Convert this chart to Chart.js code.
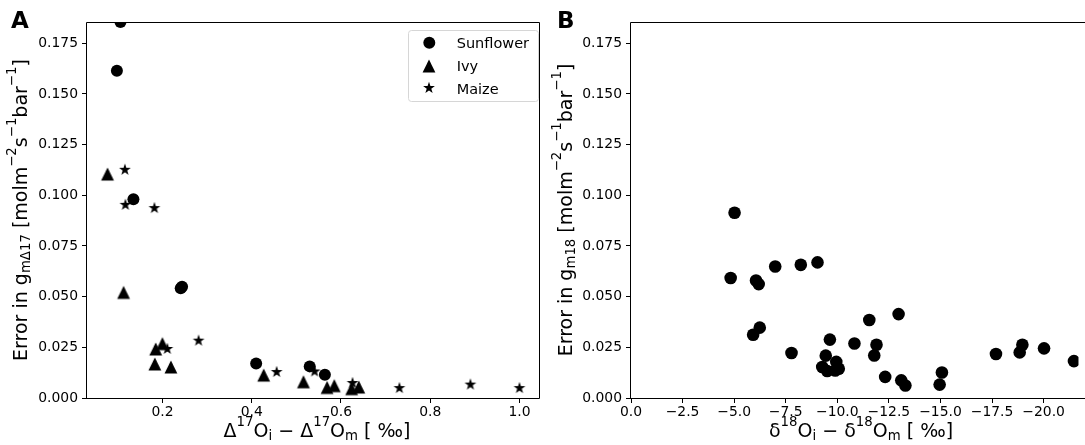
<!DOCTYPE html>
<html>
<head>
<meta charset="utf-8">
<script src="https://cdn.jsdelivr.net/npm/chart.js@4.4.0/dist/chart.umd.min.js"></script>
<style>
  html, body { margin: 0; padding: 0; background: #fff; overflow: hidden; }
  #wrap { position: relative; width: 1085px; height: 445px; font-family: "DejaVu Sans", sans-serif; color: #000; }
  canvas { position: absolute; top: 0; }
  #chartA { left: 0; }
  #chartB { left: 548px; }
  .lbl { position: absolute; white-space: nowrap; font-size: 19px; line-height: 19px; }
  .lbl sup, .lbl sub { font-size: 70%; line-height: 0; vertical-align: baseline; position: relative; }
  .lbl sup { top: -0.84em; }
  .lbl sub { top: 0.24em; }
  .xt { width: 400px; text-align: center; top: 421px; }
  .yt { top: 210px; transform: translate(-50%, -50%) rotate(-90deg); }
  .panel { position: absolute; font-weight: bold; font-size: 23px; line-height: 23px; }
</style>
</head>
<body>
<div id="wrap">
  <canvas id="chartA" width="548" height="445"></canvas>
  <canvas id="chartB" width="537" height="445"></canvas>

  <div class="panel" style="left:11px; top:9px;">A</div>
  <div class="panel" style="left:557px; top:9px;">B</div>

  <div class="lbl yt" style="left:20px;">Error in g<sub>mΔ17</sub> [molm<sup>−2</sup>s<sup>−1</sup>bar<sup>−1</sup>]</div>
  <div class="lbl xt" style="left:117px;">Δ<sup>17</sup>O<sub>i</sub> − Δ<sup>17</sup>O<sub>m</sub> [ ‰]</div>

  <div class="lbl yt" style="left:565px;">Error in g<sub>m18</sub> [molm<sup>−2</sup>s<sup>−1</sup>bar<sup>−1</sup>]</div>
  <div class="lbl xt" style="left:661px;">δ<sup>18</sup>O<sub>i</sub> − δ<sup>18</sup>O<sub>m</sub> [ ‰]</div>
</div>

<script>
// panel A: error in gm(Δ17) vs Δ17O difference, one series per species
const sunflowerX = [0.106, 0.098, 0.135, 0.241, 0.244, 0.410, 0.530, 0.564];
const sunflowerY = [0.1855, 0.1615, 0.0981, 0.0542, 0.0549, 0.0170, 0.0156, 0.0115];

const ivyX = [0.077, 0.113, 0.185, 0.200, 0.183, 0.219, 0.427, 0.516, 0.569, 0.585, 0.624, 0.640];
const ivyY = [0.1105, 0.0521, 0.0242, 0.0268, 0.0168, 0.0153, 0.0113, 0.0080, 0.0052, 0.0061, 0.0046, 0.0054];

const maizeX = [0.116, 0.117, 0.182, 0.211, 0.281, 0.456, 0.541, 0.626, 0.731, 0.890, 1.000];
const maizeY = [0.1126, 0.0953, 0.0937, 0.0242, 0.0283, 0.0128, 0.0131, 0.0074, 0.0049, 0.0066, 0.0049];

// panel B: error in gm18 vs δ18O difference
const d18X = [-5.02, -4.83, -6.06, -6.19, -6.99, -8.23, -9.04, -6.24, -5.92, -7.78,
              -9.64, -9.44, -9.27, -9.51, -9.95, -10.07, -9.90, -10.83, -11.55, -11.90,
              -11.79, -12.32, -12.97, -13.10, -13.30, -14.96, -15.07, -17.69, -18.84, -18.97,
              -20.02, -21.47];
const d18Y = [0.0914, 0.0592, 0.0580, 0.0562, 0.0649, 0.0657, 0.0669, 0.0347, 0.0312, 0.0222,
              0.0288, 0.0209, 0.0153, 0.0133, 0.0178, 0.0144, 0.0136, 0.0269, 0.0385, 0.0263,
              0.0210, 0.0104, 0.0414, 0.0087, 0.0062, 0.0066, 0.0126, 0.0217, 0.0225, 0.0263,
              0.0245, 0.0182];

const yTicks = [0, 0.025, 0.05, 0.075, 0.1, 0.125, 0.15, 0.175];
const xTicksA = [0.2, 0.4, 0.6, 0.8, 1.0];
const xTicksB = [0, -2.5, -5, -7.5, -10, -12.5, -15, -17.5, -20];

const FONT = '"DejaVu Sans", sans-serif';
const toPoints = (xs, ys) => xs.map((x, i) => ({ x: x, y: ys[i] }));

// filled marker shapes like matplotlib's '^' and '*'
function markerCanvas(draw) {
    const c = document.createElement('canvas');
    c.width = 16;
    c.height = 16;
    const g = c.getContext('2d');
    g.fillStyle = '#000';
    g.beginPath();
    draw(g);
    g.closePath();
    g.fill();
    return c;
}
const triangleImg = markerCanvas(g => {
    g.moveTo(8, 1.5);
    g.lineTo(1.6, 14.5);
    g.lineTo(14.4, 14.5);
});
const starImg = markerCanvas(g => {
    for (let i = 0; i < 10; i++) {
        const r = i % 2 ? 2.4 : 6.2;
        const a = -Math.PI / 2 + i * Math.PI / 5;
        g.lineTo(8 + r * Math.cos(a), 8 + r * Math.sin(a));
    }
});

// clip marks to the axes box, then draw the spines over them
const framePlugin = {
    id: 'frame',
    beforeDatasetsDraw(chart) {
        const { ctx, chartArea: a } = chart;
        ctx.save();
        ctx.beginPath();
        ctx.rect(a.left, a.top, a.right - a.left, a.bottom - a.top);
        ctx.clip();
    },
    afterDatasetsDraw(chart, args, opts) {
        const { ctx, chartArea: a } = chart;
        ctx.restore();
        const l = Math.round(a.left) - 0.5, t = Math.round(a.top) + 0.5;
        const b = Math.round(a.bottom) + 0.5, r = Math.round(a.right) - 0.5;
        ctx.save();
        ctx.strokeStyle = '#000';
        ctx.lineWidth = 1;
        ctx.beginPath();
        ctx.moveTo(l, b); ctx.lineTo(l, t); ctx.lineTo(opts.right ? r : chart.width, t);
        if (opts.right) ctx.lineTo(r, b);
        ctx.moveTo(l, b); ctx.lineTo(opts.right ? r : chart.width, b);
        ctx.stroke();
        ctx.restore();
    }
};

const boxLegend = {
    id: 'boxLegend',
    afterDraw(chart, args, opts) {
        if (!opts.show) return;
        const ctx = chart.ctx;
        ctx.save();
        ctx.beginPath();
        ctx.roundRect(408.5, 30.5, 130, 71, 3);
        ctx.fillStyle = 'rgba(255,255,255,0.8)';
        ctx.fill();
        ctx.strokeStyle = '#d6d6d6';
        ctx.lineWidth = 1;
        ctx.stroke();
        ctx.font = '14.5px ' + FONT;
        ctx.fillStyle = '#000';
        ctx.textBaseline = 'alphabetic';
        chart.data.datasets.forEach((ds, i) => {
            const y = 42.7 + i * 22.8;
            if (ds.pointStyle === 'circle') {
                ctx.beginPath();
                ctx.arc(429.3, y, 6, 0, Math.PI * 2);
                ctx.fill();
            } else {
                ctx.drawImage(ds.pointStyle, 429 - 8, Math.round(y) - 8);
            }
            ctx.fillText(ds.label, 456.7, y + 5.3);
        });
        ctx.restore();
    }
};

function tickAxis(ticks, fmt) {
    return {
        type: 'linear',
        afterBuildTicks: s => { s.ticks = ticks.map(v => ({ value: v })); },
        border: { display: false },
        grid: { drawOnChartArea: false, drawTicks: true, tickLength: 5, tickColor: '#000', tickWidth: 1 },
        ticks: {
            color: '#000',
            font: { family: FONT, size: 13.9 },
            autoSkip: false,
            maxRotation: 0,
            callback: fmt
        }
    };
}

function yAxis(width) {
    const ax = tickAxis(yTicks, v => v.toFixed(3));
    ax.min = 0;
    ax.max = 0.1855;
    ax.ticks.padding = 4;
    ax.afterFit = s => { s.width = width; s.paddingTop = 0; s.paddingBottom = 0; };
    return ax;
}

function xAxis(ticks, fmt, min, max, reverse) {
    const ax = tickAxis(ticks, fmt);
    ax.min = min;
    ax.max = max;
    ax.reverse = reverse;
    ax.ticks.padding = 1;
    ax.afterFit = s => { s.height = 47; s.paddingLeft = 0; s.paddingRight = 0; };
    return ax;
}

const commonOpts = {
    responsive: false,
    animation: false,
    devicePixelRatio: 1,
    events: []
};

new Chart(document.getElementById('chartA').getContext('2d'), {
    type: 'scatter',
    data: {
        datasets: [
            { label: 'Sunflower', data: toPoints(sunflowerX, sunflowerY), pointStyle: 'circle',
              pointRadius: 6, pointBorderWidth: 0, backgroundColor: '#000', borderColor: '#000' },
            { label: 'Ivy', data: toPoints(ivyX, ivyY), pointStyle: triangleImg,
              pointRadius: 7, backgroundColor: '#000', borderColor: '#000' },
            { label: 'Maize', data: toPoints(maizeX, maizeY), pointStyle: starImg,
              pointRadius: 6, backgroundColor: '#000', borderColor: '#000' }
        ]
    },
    options: Object.assign({}, commonOpts, {
        layout: { padding: { left: 0, top: 22, right: 2, bottom: 0 } },
        scales: {
            x: xAxis(xTicksA, v => v.toFixed(1), 0.031, 1.046, false),
            y: yAxis(87)
        },
        plugins: {
            legend: { display: false },
            tooltip: { enabled: false },
            frame: { right: true },
            boxLegend: { show: true }
        }
    }),
    plugins: [framePlugin, boxLegend]
});

new Chart(document.getElementById('chartB').getContext('2d'), {
    type: 'scatter',
    data: {
        datasets: [
            { label: 'gm18', data: toPoints(d18X, d18Y), pointStyle: 'circle',
              pointRadius: 6.3, pointBorderWidth: 0, backgroundColor: '#000', borderColor: '#000' }
        ]
    },
    options: Object.assign({}, commonOpts, {
        layout: { padding: { left: 0, top: 22, right: 0, bottom: 0 } },
        scales: {
            x: xAxis(xTicksB, v => (v === 0 ? '0.0' : '\u2212' + Math.abs(v).toFixed(1)), -21.7, 0, true),
            y: yAxis(83)
        },
        plugins: {
            legend: { display: false },
            tooltip: { enabled: false },
            frame: { right: false },
            boxLegend: { show: false }
        }
    }),
    plugins: [framePlugin, boxLegend]
});
</script>
</body>
</html>
